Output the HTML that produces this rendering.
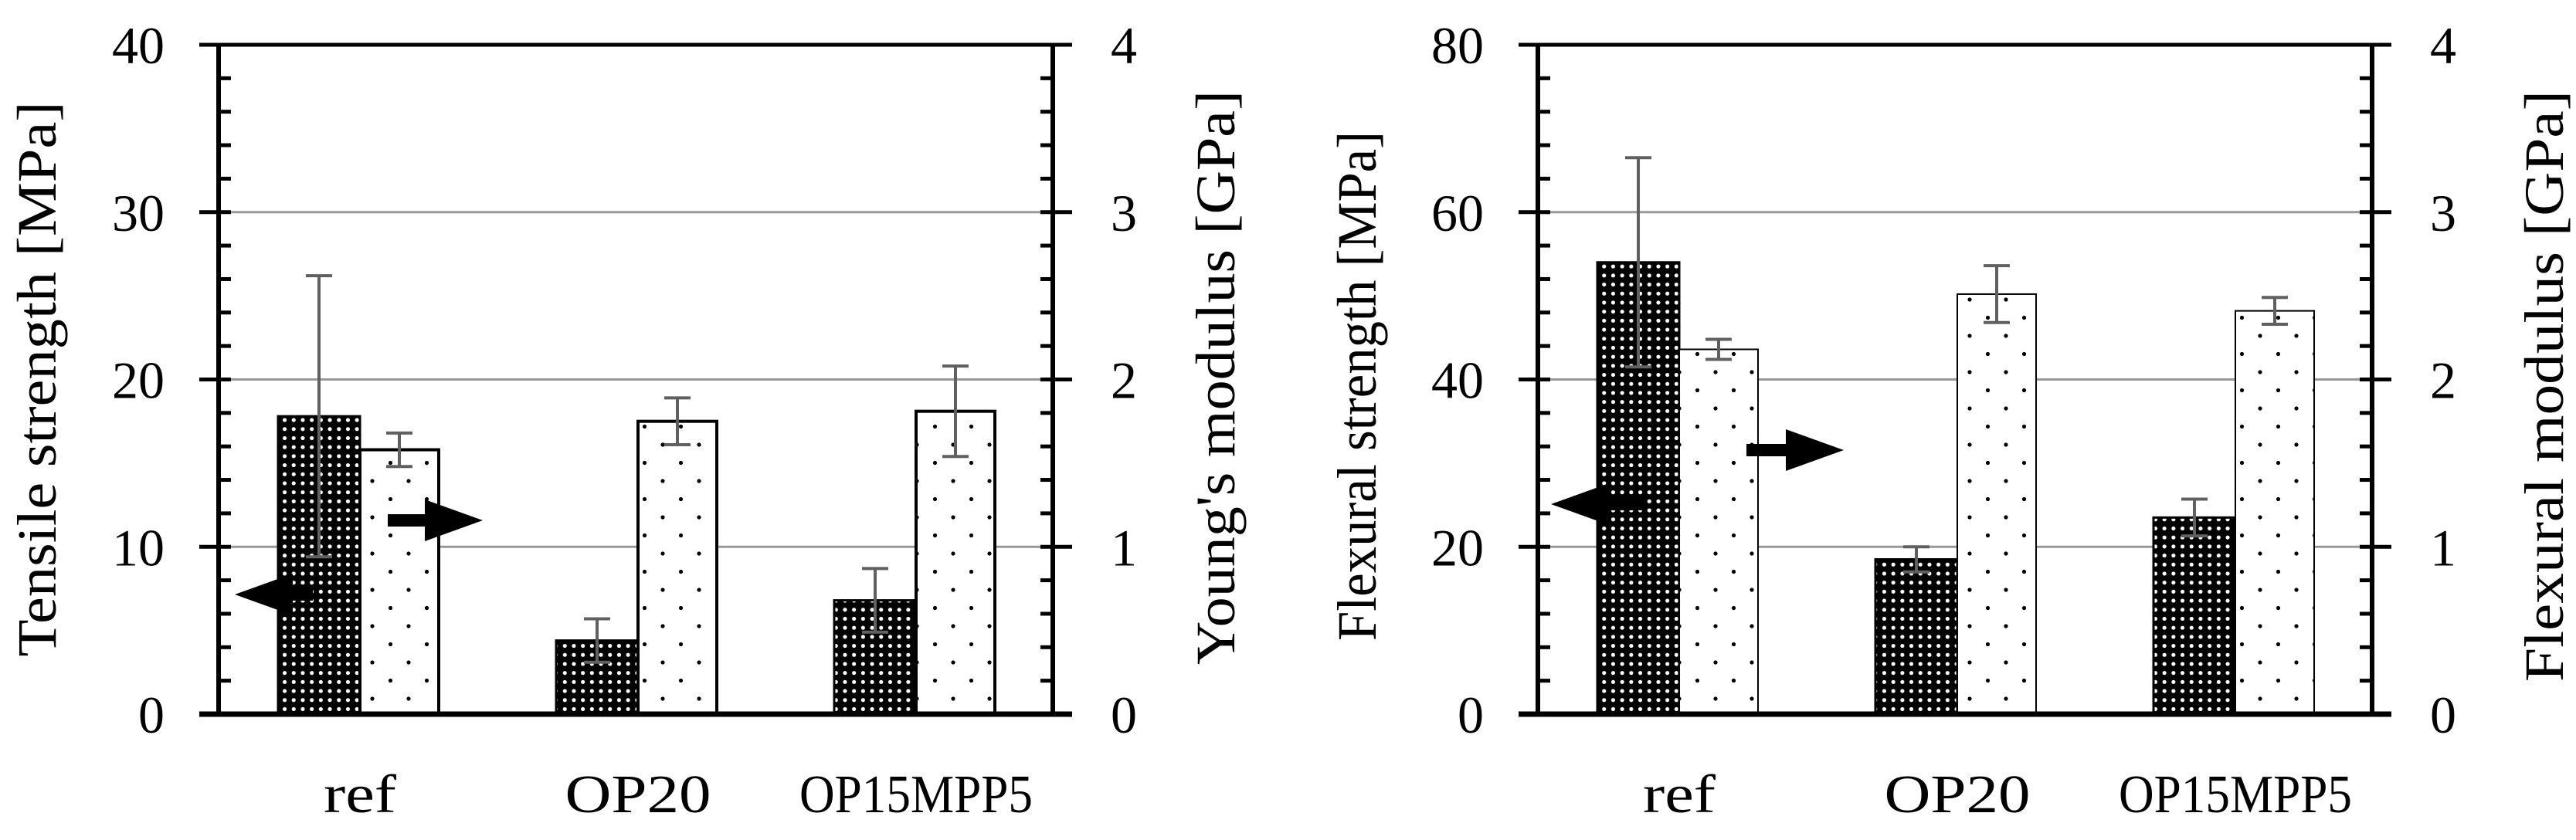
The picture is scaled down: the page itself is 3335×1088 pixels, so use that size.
<!DOCTYPE html>
<html><head><meta charset="utf-8"><style>
html,body{margin:0;padding:0;background:#fff;}
svg{display:block;font-family:"Liberation Serif",serif;}
</style></head><body>
<svg id="fig" width="3335" height="1088" viewBox="0 0 3335 1088" xmlns="http://www.w3.org/2000/svg">
<defs>
<pattern id="darkPat" patternUnits="userSpaceOnUse" width="11.7" height="11.7">
<rect width="11.7" height="11.7" fill="#000"/><circle cx="5.85" cy="5.85" r="2.6" fill="#fff"/>
</pattern>
<pattern id="lightPat" patternUnits="userSpaceOnUse" width="47" height="47">
<rect width="47" height="47" fill="#fff"/><circle cx="12" cy="12" r="2.6" fill="#000"/><circle cx="35.5" cy="35.5" r="2.6" fill="#000"/>
</pattern>
</defs>
</svg>
<script>
const categories = ["ref", "OP20", "OP15MPP5"];
// left panel
const tensileStrength = [17.8, 4.4, 6.8];
const tensileErr = [8.4, 1.3, 1.9];
const youngsModulus = [1.58, 1.75, 1.81];
const youngsErr = [0.1, 0.14, 0.27];
const tensileTicks = [0, 10, 20, 30, 40];
const youngsTicks = [0, 1, 2, 3, 4];
// right panel
const flexStrength = [54.0, 18.5, 23.5];
const flexErr = [12.5, 1.5, 2.2];
const flexModulus = [2.18, 2.51, 2.41];
const flexModErr = [0.06, 0.17, 0.08];
const flexTicks = [0, 20, 40, 60, 80];
const flexModTicks = [0, 1, 2, 3, 4];

const NS = "http://www.w3.org/2000/svg";
const svg = document.getElementById("fig");
function mk(tag, attrs, parent) {
  const e = document.createElementNS(NS, tag);
  for (const k in attrs) e.setAttribute(k, attrs[k]);
  (parent || svg).appendChild(e);
  return e;
}

function panel(o) {
  const g = mk("g", {});
  
  
  const L = o.L, R = o.L + 1080, T = 58, B = 925;
  const yl = v => B - (v / o.lmax) * (B - T);
  const yr = v => B - (v / o.rmax) * (B - T);
  const band = (R - L) / categories.length;
  o.lticks.forEach((t, i) => {
    if (i > 0 && i < o.lticks.length - 1) {
      const gl = mk("line", {x1: L, x2: R, y1: yl(t), y2: yl(t), stroke: "#999", "stroke-width": 3}, g);
      
      
    }
  });
  categories.forEach((c, i) => {
    const cx = L + band * (i + 0.5) + 3;
    const d = mk("rect", {x: cx - 106, y: yl(o.left[i]), width: 106, height: B - yl(o.left[i]), fill: "url(#darkPat)", stroke: "#000", "stroke-width": 3}, g);
    
    
    const l = mk("rect", {x: cx, y: yr(o.right[i]), width: 102, height: B - yr(o.right[i]), fill: "url(#lightPat)", stroke: "#000", "stroke-width": o.lw}, g);
    
    
    [[cx - 53, yl, o.left[i], o.lerr[i]], [cx + 51, yr, o.right[i], o.rerr[i]]].forEach(([x, f, v, e], j) => {
      const eg = mk("g", {stroke: "#606060", "stroke-width": 4, fill: "none"}, g);
      
      
      mk("line", {x1: x, x2: x, y1: f(v + e), y2: f(v - e)}, eg);
      mk("line", {x1: x - 17, x2: x + 17, y1: f(v + e), y2: f(v + e)}, eg);
      mk("line", {x1: x - 17, x2: x + 17, y1: f(v - e), y2: f(v - e)}, eg);
    });
    const xl = mk("text", {x: cx - o.xlw[i] / 2, y: 1052, "font-size": 70, textLength: o.xlw[i], lengthAdjust: "spacingAndGlyphs"}, g);
    xl.textContent = c;
    
    
  });
  const ax = mk("g", {stroke: "#000", fill: "none"}, g);
  
  
  mk("line", {x1: L, x2: L, y1: T, y2: B, "stroke-width": 6}, ax);
  mk("line", {x1: R, x2: R, y1: T, y2: B, "stroke-width": 6}, ax);
  mk("line", {x1: L - 25, x2: R + 25, y1: T, y2: T, "stroke-width": 5}, ax);
  mk("line", {x1: L - 25, x2: R + 25, y1: B, y2: B, "stroke-width": 7}, ax);
  for (let k = 0; k <= 20; k++) {
    const y = B - k * (B - T) / 20;
    if (k % 5 === 0) {
      mk("line", {x1: L - 25, x2: L + 16, y1: y, y2: y, "stroke-width": 5}, ax);
      mk("line", {x1: R - 16, x2: R + 25, y1: y, y2: y, "stroke-width": 5}, ax);
    } else {
      mk("line", {x1: L, x2: L + 16, y1: y, y2: y, "stroke-width": 5}, ax);
      mk("line", {x1: R - 16, x2: R, y1: y, y2: y, "stroke-width": 5}, ax);
    }
  }
  o.lticks.forEach(t => {
    const tl = mk("text", {x: L - 70, y: yl(t) + 24, "font-size": 68, "text-anchor": "end"}, g);
    tl.textContent = t;
    
    
  });
  o.rticks.forEach(t => {
    const tl = mk("text", {x: R + 75, y: yr(t) + 24, "font-size": 68, "text-anchor": "start"}, g);
    tl.textContent = t;
    
    
  });
  const lt = mk("text", {transform: `translate(${o.ltx},${o.lty}) rotate(-90)`, x: -o.ltl / 2, y: 0, "font-size": 72, textLength: o.ltl, lengthAdjust: "spacingAndGlyphs"}, g);
  lt.textContent = o.ltitle;
  
  
  const rt = mk("text", {transform: `translate(${o.rtx},${o.rty}) rotate(-90)`, x: -o.rtl / 2, y: 0, "font-size": 72, textLength: o.rtl, lengthAdjust: "spacingAndGlyphs"}, g);
  rt.textContent = o.rtitle;
  
  
  function arrow(tip, tail, y, dir, nm) {
    const hx = tip - dir * 75;
    const p = mk("polygon", {points: `${tip},${y} ${hx},${y - 27} ${hx},${y - 8} ${tail},${y - 8} ${tail},${y + 8} ${hx},${y + 8} ${hx},${y + 27}`, fill: "#000"}, g);
    
    
  }
  arrow(o.aL[0], o.aL[1], o.aL[2], -1, 'arrow-left-axis');
  arrow(o.aR[0], o.aR[1], o.aR[2], 1, 'arrow-right-axis');
}

panel({name: "tensile-panel", L: 283, lmax: 40, rmax: 4, left: tensileStrength, lerr: tensileErr, right: youngsModulus, rerr: youngsErr,
  lticks: tensileTicks, rticks: youngsTicks, lkey: "tensile", rkey: "youngs", lw: 4,
  xlw: [94, 189, 302], ltitle: "Tensile strength [MPa]", ltx: 72, lty: 491, ltl: 719,
  rtitle: "Young's modulus [GPa]", rtx: 1598, rty: 489, rtl: 744,
  aL: [304, 405, 770], aR: [625, 502, 674]});
panel({name: "flexural-panel", L: 1991, lmax: 80, rmax: 4, left: flexStrength, lerr: flexErr, right: flexModulus, rerr: flexModErr,
  lticks: flexTicks, rticks: flexModTicks, lkey: "flexural-strength", rkey: "flexural-modulus", lw: 2,
  xlw: [94, 189, 302], ltitle: "Flexural strength [MPa]", ltx: 1781, lty: 500, ltl: 660,
  rtitle: "Flexural modulus [GPa]", rtx: 3318, rty: 500, rtl: 766,
  aL: [2008, 2127, 653], aR: [2387, 2261, 583]});
</script>
</body></html>
